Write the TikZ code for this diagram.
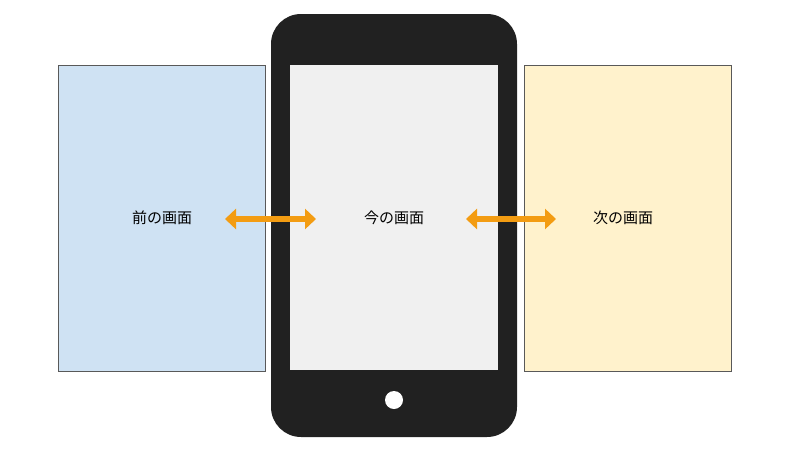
\documentclass[tikz,border=0pt]{standalone}
\usepackage{fontspec}
\newfontfamily\cjk{Noto Sans CJK JP}
\usetikzlibrary{arrows.meta}
\begin{document}
\begin{tikzpicture}[x=1pt,y=-1pt,
  page/.style={draw=gray!70!black,line width=0.5pt},
  lbl/.style={font=\cjk\fontsize{15}{18}\selectfont},
  swap/.style={line width=6pt,{Triangle[length=11pt,width=20pt]}-{Triangle[length=11pt,width=20pt]}}]
\useasboundingbox (0,0) rectangle (800,450);
\definecolor{lb}{HTML}{CFE2F3}\definecolor{ly}{HTML}{FFF2CC}\definecolor{orng}{HTML}{F39C12}
\filldraw[page,fill=lb] (58,65) rectangle (265,371);
\filldraw[page,fill=ly] (524,65) rectangle (731,371);
\fill[black!87,rounded corners=30pt] (271,14) rectangle (517,437);
\fill[black!6] (290,65) rectangle (498,370);
\fill[white] (394,400) circle (9);
\node[lbl] (prev) at (162,218) {前の画面};
\node[lbl] (cur) at (394,218) {今の画面};
\node[lbl] (next) at (623,218) {次の画面};
\coordinate (a1) at (225,219); \coordinate (a2) at (316,219);
\coordinate (b1) at (466,219); \coordinate (b2) at (556,219);
\draw[swap,draw=orng] (a1) -- (a2);
\draw[swap,draw=orng] (b1) -- (b2);
\end{tikzpicture}
\end{document}
